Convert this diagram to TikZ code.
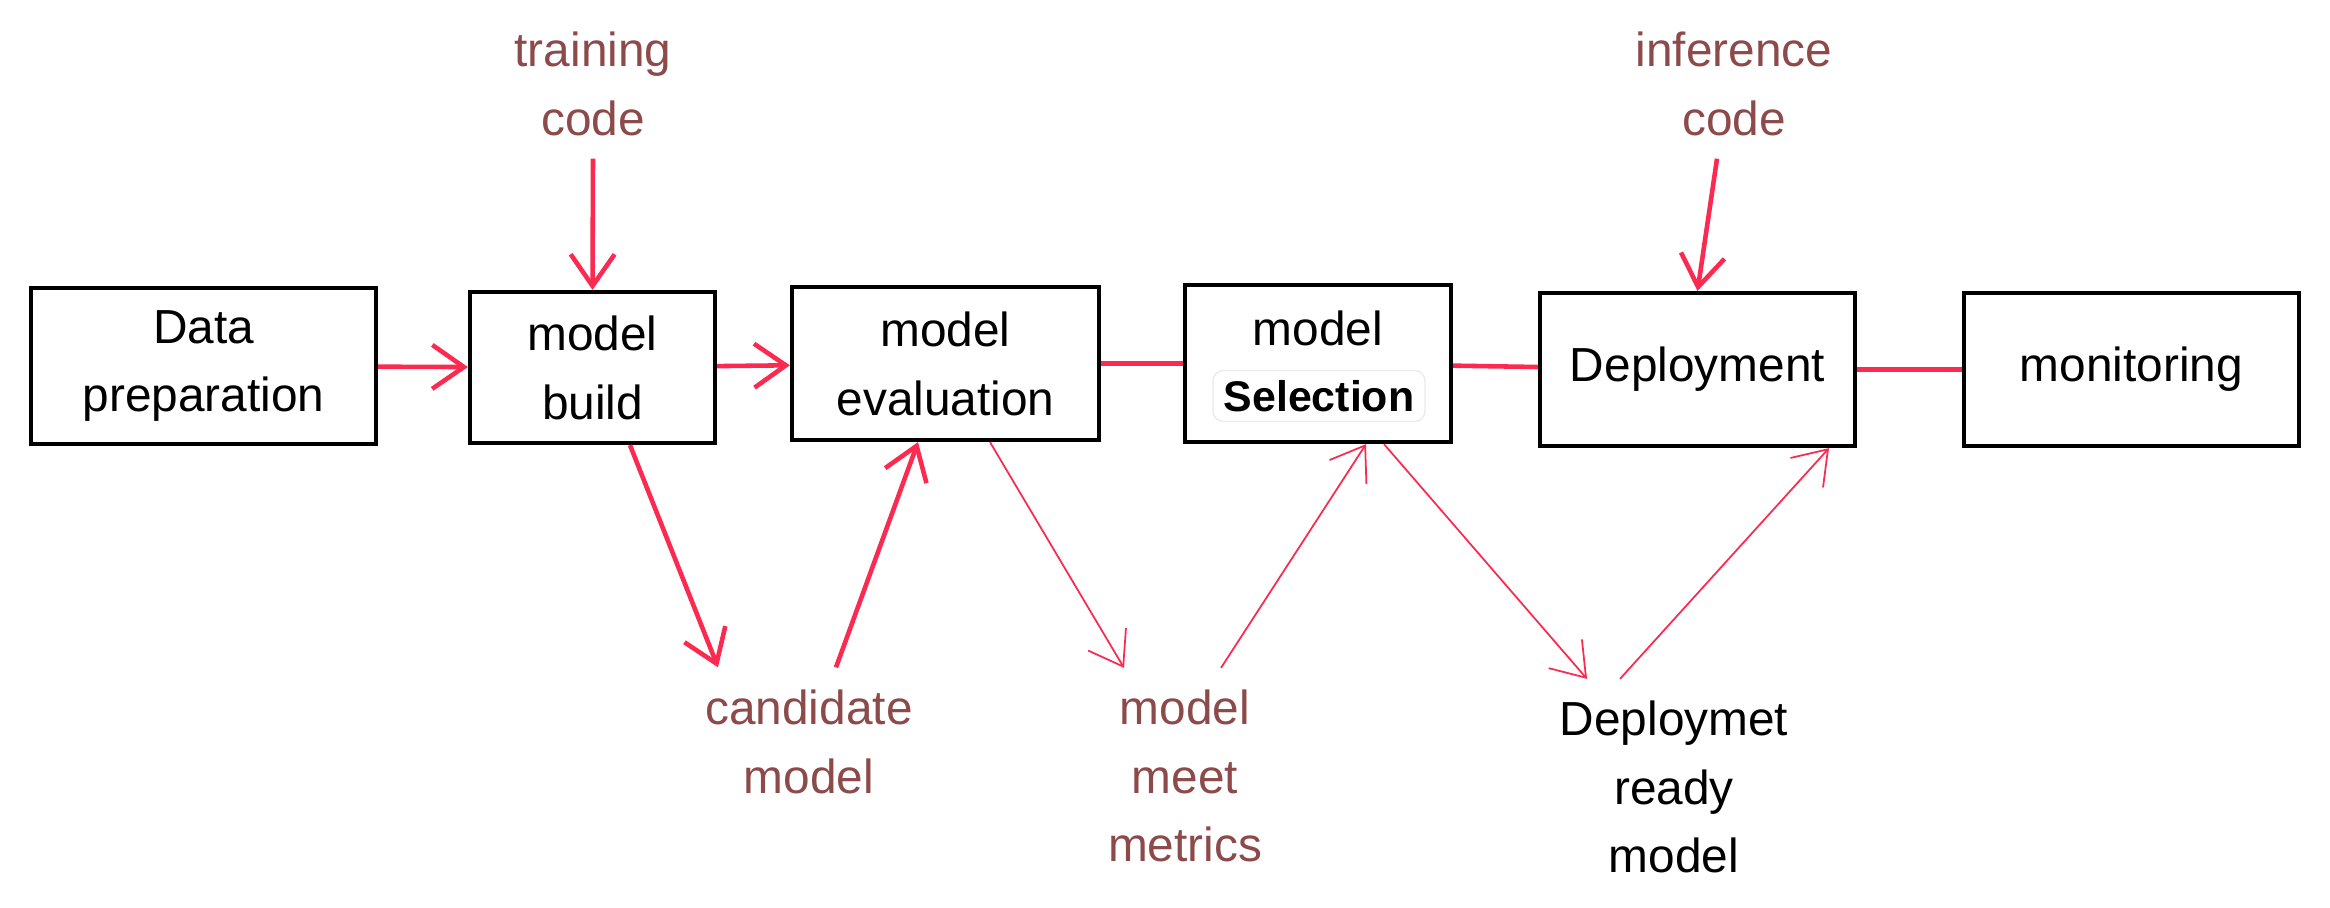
\documentclass[tikz,border=0pt]{standalone}
\usepackage{fontspec}
\setmainfont{Liberation Sans}
\usetikzlibrary{arrows.meta}
\definecolor{linkred}{RGB}{250,42,80}
\definecolor{notebrown}{RGB}{140,74,74}

\begin{document}
\begin{tikzpicture}[x=0.1mm, y=-0.1mm, font=\fontsize{13.6}{19.6}\selectfont,
  box/.style={draw, line width=1.2pt, inner sep=0pt, align=center},
  note/.style={align=center, inner sep=0pt, text=notebrown},
  link/.style={draw=linkred, line width=1.3pt},
  thin link/.style={draw=linkred, line width=0.5pt},
  arrowed/.style={-{Straight Barb[length=9pt,width=12.5pt]}}]

\useasboundingbox (0,0) rectangle (2330,907);

% main chain
\node[box, minimum width=3.45cm, minimum height=1.56cm] (data) at (203.5,366) {Data\\preparation};
\node[box, minimum width=2.45cm, minimum height=1.51cm] (build) at (592.5,367.5) {model\\build};
\node[box, minimum width=3.07cm, minimum height=1.53cm] (eval) at (945.5,363.5) {model\\evaluation};
\node[box, minimum width=2.66cm, minimum height=1.57cm] (sel) at (1318,363.5) {};
\node (selm) at (1318,328) {model};
\node[fill=white, draw=black!8, rounded corners=3pt, minimum width=2.12cm, minimum height=0.51cm,
  inner sep=0pt, font=\fontsize{12.2}{14}\selectfont\bfseries] (selb) at (1319,396) {Selection};
\node[box, minimum width=3.15cm, minimum height=1.53cm] (dep) at (1697.5,369.5) {Deployment};
\node[box, minimum width=3.35cm, minimum height=1.53cm] (mon) at (2131.5,369.5) {monitoring};

% side notes
\node[note] (train) at (593,84) {training\\code};
\node[note] (infer) at (1734,84) {inference\\code};
\node[note] (cand) at (809,742) {candidate\\model};
\node[note] (meet) at (1185,776) {model\\meet\\metrics};
\node[note, text=black] (ready) at (1674,787) {Deploymet\\ready\\model};

\foreach \a/\b in {data/build, build/eval}
\draw[link, arrowed] (\a) -- (\b);

\foreach \a/\b in {eval/sel, sel/dep, dep/mon}
\draw[link] (\a) -- (\b);

\draw[link, arrowed] ([yshift=-2.2mm]train.south) -- (build.north);
\draw[link, arrowed] ([xshift=-1.7mm,yshift=-2.2mm]infer.south) -- (dep.north);

\draw[link, arrowed] ([xshift=3.75mm]build.south) -- ([xshift=-9.1mm,yshift=2.2mm]cand.north);
\draw[link, arrowed] ([xshift=2.7mm,yshift=2.2mm]cand.north) -- ([xshift=-2.75mm]eval.south);
\draw[thin link, arrowed] ([xshift=4.45mm]eval.south) -- ([xshift=-6.1mm,yshift=2.1mm]meet.north);
\draw[thin link, arrowed] ([xshift=3.6mm,yshift=2.1mm]meet.north) -- ([xshift=4.8mm]sel.south);
\draw[thin link, arrowed] ([xshift=6.6mm]sel.south) -- ([xshift=-8.7mm,yshift=2.1mm]ready.north);
\draw[thin link, arrowed] ([xshift=-5.4mm,yshift=2.1mm]ready.north) -- ([xshift=13.15mm]dep.south);
\end{tikzpicture}
\end{document}
